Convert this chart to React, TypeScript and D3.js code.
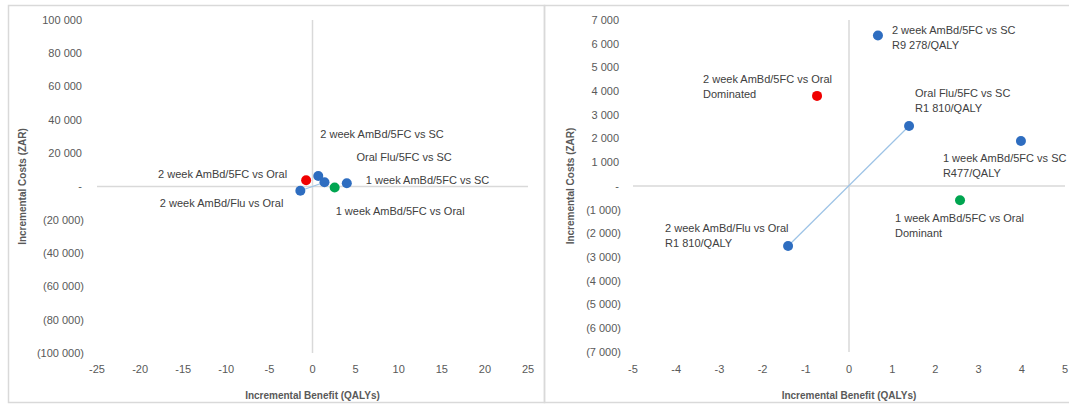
import React from 'react';
import * as d3 from 'd3';

// comparisons shown in both panels (same points, different zoom)
const comparisons = [
  '2 week AmBd/5FC vs SC',
  '2 week AmBd/5FC vs Oral',
  'Oral Flu/5FC vs SC',
  '1 week AmBd/5FC vs SC',
  '1 week AmBd/5FC vs Oral',
  '2 week AmBd/Flu vs Oral',
];
const incBenefit = [0.67, -0.74, 1.39, 3.98, 2.57, -1.41];
const incCost = [6350, 3800, 2530, 1900, -600, -2530];
const icerLabels = ['R9 278/QALY', 'Dominated', 'R1 810/QALY', 'R477/QALY', 'Dominant', 'R1 810/QALY'];
const pointKind = ['ce', 'dominated', 'ce', 'ce', 'dominant', 'ce'];

const leftXTicks = [-25, -20, -15, -10, -5, 0, 5, 10, 15, 20, 25];
const leftYTicks = [100000, 80000, 60000, 40000, 20000, 0, -20000, -40000, -60000, -80000, -100000];
const rightXTicks = [-5, -4, -3, -2, -1, 0, 1, 2, 3, 4, 5];
const rightYTicks = [7000, 6000, 5000, 4000, 3000, 2000, 1000, 0, -1000, -2000, -3000, -4000, -5000, -6000, -7000];

// line drawn through the two "R1 810/QALY" points
const icerLine = [5, 2];

const colors: Record<string, string> = { ce: '#2e6dc0', dominated: '#f00000', dominant: '#00a550' };
const textColor = '#404040';
const tickColor = '#595959';
const axisColor = '#d9d9d9';
const font = '"Liberation Sans", Arial, sans-serif';

const loc = d3.formatLocale({ decimal: '.', thousands: ' ', grouping: [3], currency: ['', ''] });
const fmt = loc.format(',d');
const costFmt = (v: number) => (v === 0 ? '-' : v < 0 ? `(${fmt(-v)})` : fmt(v));

// label placement, pixel offsets from each point
const leftLabelPos = [
  { dx: 2, dy: -42, anchor: 'start' },
  { dx: -19, dy: -6, anchor: 'end' },
  { dx: 32, dy: -25, anchor: 'start' },
  { dx: 19, dy: -3, anchor: 'start' },
  { dx: 1, dy: 24, anchor: 'start' },
  { dx: -17, dy: 12, anchor: 'end' },
];
const rightLabelPos = [
  { dx: 14, dy: -5 },
  { dx: -114, dy: -17 },
  { dx: 6, dy: -33 },
  { dx: -78, dy: 17 },
  { dx: -65, dy: 18 },
  { dx: -123, dy: -18 },
];

type PanelProps = {
  xDomain: [number, number];
  yDomain: [number, number];
  xRange: [number, number];
  yRange: [number, number];
  xTicks: number[];
  yTicks: number[];
  yLabelX: number;
  yTitleX: number;
  right: boolean;
};

function Panel(p: PanelProps) {
  const x = d3.scaleLinear().domain(p.xDomain).range(p.xRange);
  const y = d3.scaleLinear().domain(p.yDomain).range(p.yRange);
  const line = d3.line<number>().x(i => x(incBenefit[i])).y(i => y(incCost[i]));
  const x0 = x(0);
  const y0 = y(0);
  const midX = (p.xRange[0] + p.xRange[1]) / 2;
  return (
    <g fontFamily={font}>
      {/* quadrant axes */}
      <line x1={p.xRange[0]} x2={p.xRange[1]} y1={y0} y2={y0} stroke={axisColor} strokeWidth={1.5} />
      <line x1={x0} x2={x0} y1={p.yRange[1]} y2={p.yRange[0]} stroke={axisColor} strokeWidth={1.5} />
      {p.yTicks.map(t => (
        <text key={'y' + t} x={p.yLabelX + (t < 0 ? 2 : 0)} y={y(t)} dy="0.35em" textAnchor="end" fontSize={11} fill={tickColor}>
          {costFmt(t)}
        </text>
      ))}
      {p.xTicks.map(t => (
        <text key={'x' + t} x={x(t)} y={369} dy="0.35em" textAnchor="middle" fontSize={11} fill={tickColor}>
          {t}
        </text>
      ))}
      <text x={midX} y={395} dy="0.35em" textAnchor="middle" fontSize={10} fontWeight="bold" fill={tickColor}>
        Incremental Benefit (QALYs)
      </text>
      <text transform={`translate(${p.yTitleX},${(p.yRange[0] + p.yRange[1]) / 2}) rotate(-90)`} textAnchor="middle" dy="0.35em" fontSize={10} fontWeight="bold" fill={tickColor}>
        Incremental Costs (ZAR)
      </text>
      <path d={line(icerLine) || ''} fill="none" stroke="#9dc3e6" strokeWidth={1.2} />
      {comparisons.map((c, i) => (
        <circle key={c} cx={x(incBenefit[i])} cy={y(incCost[i])} r={5} fill={colors[pointKind[i]]} />
      ))}
      {comparisons.map((c, i) => {
        const px = x(incBenefit[i]);
        const py = y(incCost[i]);
        if (p.right) {
          const lp = rightLabelPos[i];
          return (
            <text key={'l' + c} x={px + lp.dx} y={py + lp.dy} fontSize={11} fill={textColor}>
              <tspan x={px + lp.dx} dy="0.35em">{c}</tspan>
              <tspan x={px + lp.dx} dy={15}>{icerLabels[i]}</tspan>
            </text>
          );
        }
        const lp = leftLabelPos[i];
        return (
          <text key={'l' + c} x={px + lp.dx} y={py + lp.dy} dy="0.35em" textAnchor={lp.anchor as any} fontSize={11} fill={textColor}>
            {c}
          </text>
        );
      })}
    </g>
  );
}

export default function App() {
  return (
    <svg width={1069} height={406} style={{ position: 'absolute', left: 0, top: 0, background: '#fff' }}>
      <rect x={0} y={0} width={1069} height={406} fill="#fff" />
      <rect x={8.5} y={5.5} width={536} height={397} fill="none" stroke={axisColor} strokeWidth={1.5} />
      <rect x={544.5} y={5.5} width={530} height={397} fill="none" stroke={axisColor} strokeWidth={1.5} />
      <Panel
        xDomain={[-25, 25]}
        yDomain={[-100000, 100000]}
        xRange={[97, 528]}
        yRange={[353, 20]}
        xTicks={leftXTicks}
        yTicks={leftYTicks}
        yLabelX={82}
        yTitleX={22}
        right={false}
      />
      <Panel
        xDomain={[-5, 5]}
        yDomain={[-7000, 7000]}
        xRange={[633, 1065]}
        yRange={[352, 20]}
        xTicks={rightXTicks}
        yTicks={rightYTicks}
        yLabelX={619}
        yTitleX={570}
        right={true}
      />
    </svg>
  );
}
